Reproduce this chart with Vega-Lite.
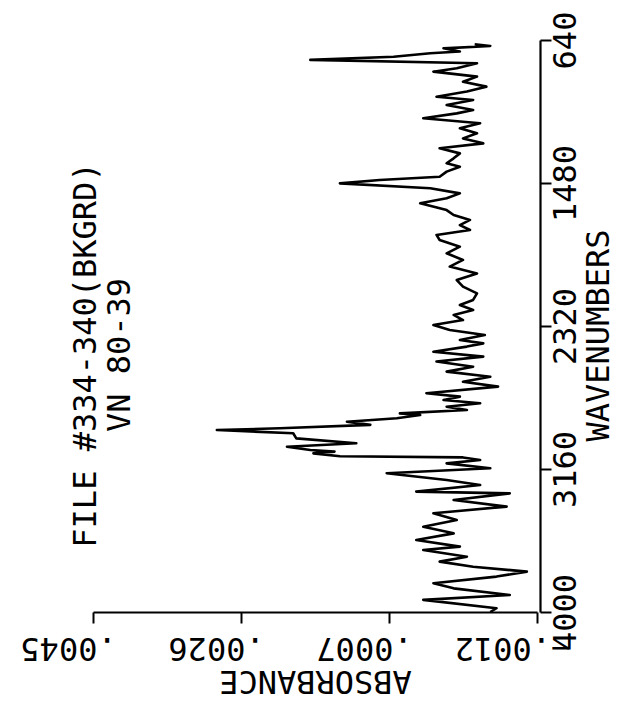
{
  "$schema": "https://vega.github.io/schema/vega-lite/v6.json",
  "width": 444,
  "height": 572,
  "autosize": "none",
  "padding": {"left": 93, "top": 40, "right": 86, "bottom": 100},
  "background": "white",
  "title": {
    "text": ["FILE #334-340(BKGRD)", "VN 80-39"],
    "orient": "left",
    "anchor": "middle",
    "offset": -117,
    "dx": -29,
    "lineHeight": 34,
    "font": "DejaVu Sans Mono",
    "fontSize": 32,
    "fontWeight": "normal",
    "color": "black"
  },
  "data": {
    "values": [
      {"wavenumber": 4000, "absorbance": -0.00060},
      {"wavenumber": 3978, "absorbance": -0.00068},
      {"wavenumber": 3929, "absorbance": 0.00026},
      {"wavenumber": 3900, "absorbance": -0.00085},
      {"wavenumber": 3861, "absorbance": -0.00013},
      {"wavenumber": 3831, "absorbance": 0.00013},
      {"wavenumber": 3792, "absorbance": -0.00068},
      {"wavenumber": 3763, "absorbance": -0.00107},
      {"wavenumber": 3734, "absorbance": -0.00038},
      {"wavenumber": 3704, "absorbance": 0.00005},
      {"wavenumber": 3675, "absorbance": -0.00030},
      {"wavenumber": 3636, "absorbance": 0.00026},
      {"wavenumber": 3616, "absorbance": -0.00021},
      {"wavenumber": 3577, "absorbance": 0.00035},
      {"wavenumber": 3538, "absorbance": -0.00013},
      {"wavenumber": 3499, "absorbance": 0.00026},
      {"wavenumber": 3460, "absorbance": -0.00017},
      {"wavenumber": 3420, "absorbance": 0.00013},
      {"wavenumber": 3381, "absorbance": -0.00081},
      {"wavenumber": 3342, "absorbance": -0.00013},
      {"wavenumber": 3303, "absorbance": -0.00085},
      {"wavenumber": 3293, "absorbance": 0.00035},
      {"wavenumber": 3254, "absorbance": -0.00047},
      {"wavenumber": 3225, "absorbance": -0.00004},
      {"wavenumber": 3185, "absorbance": 0.00073},
      {"wavenumber": 3156, "absorbance": -0.00060},
      {"wavenumber": 3127, "absorbance": -0.00004},
      {"wavenumber": 3107, "absorbance": -0.00047},
      {"wavenumber": 3092, "absorbance": -0.00025},
      {"wavenumber": 3085, "absorbance": 0.00133},
      {"wavenumber": 3068, "absorbance": 0.00167},
      {"wavenumber": 3058, "absorbance": 0.00140},
      {"wavenumber": 3048, "absorbance": 0.00171},
      {"wavenumber": 3029, "absorbance": 0.00201},
      {"wavenumber": 3009, "absorbance": 0.00112},
      {"wavenumber": 2980, "absorbance": 0.00189},
      {"wavenumber": 2950, "absorbance": 0.00193},
      {"wavenumber": 2931, "absorbance": 0.00291},
      {"wavenumber": 2921, "absorbance": 0.00210},
      {"wavenumber": 2901, "absorbance": 0.00094},
      {"wavenumber": 2882, "absorbance": 0.00124},
      {"wavenumber": 2862, "absorbance": 0.00060},
      {"wavenumber": 2843, "absorbance": 0.00030},
      {"wavenumber": 2833, "absorbance": 0.00056},
      {"wavenumber": 2813, "absorbance": -0.00030},
      {"wavenumber": 2794, "absorbance": -0.00004},
      {"wavenumber": 2774, "absorbance": -0.00047},
      {"wavenumber": 2755, "absorbance": 0.00000},
      {"wavenumber": 2735, "absorbance": -0.00021},
      {"wavenumber": 2715, "absorbance": 0.00022},
      {"wavenumber": 2676, "absorbance": -0.00070},
      {"wavenumber": 2647, "absorbance": -0.00025},
      {"wavenumber": 2618, "absorbance": -0.00060},
      {"wavenumber": 2588, "absorbance": -0.00004},
      {"wavenumber": 2559, "absorbance": -0.00038},
      {"wavenumber": 2529, "absorbance": 0.00009},
      {"wavenumber": 2500, "absorbance": -0.00051},
      {"wavenumber": 2471, "absorbance": 0.00013},
      {"wavenumber": 2441, "absorbance": -0.00030},
      {"wavenumber": 2422, "absorbance": -0.00051},
      {"wavenumber": 2402, "absorbance": -0.00021},
      {"wavenumber": 2373, "absorbance": -0.00053},
      {"wavenumber": 2343, "absorbance": -0.00008},
      {"wavenumber": 2314, "absorbance": 0.00013},
      {"wavenumber": 2285, "absorbance": -0.00025},
      {"wavenumber": 2255, "absorbance": -0.00013},
      {"wavenumber": 2226, "absorbance": -0.00038},
      {"wavenumber": 2197, "absorbance": -0.00021},
      {"wavenumber": 2167, "absorbance": -0.00038},
      {"wavenumber": 2128, "absorbance": -0.00043},
      {"wavenumber": 2089, "absorbance": -0.00025},
      {"wavenumber": 2050, "absorbance": -0.00017},
      {"wavenumber": 2011, "absorbance": -0.00043},
      {"wavenumber": 1971, "absorbance": -0.00008},
      {"wavenumber": 1932, "absorbance": -0.00025},
      {"wavenumber": 1893, "absorbance": -0.00004},
      {"wavenumber": 1854, "absorbance": -0.00021},
      {"wavenumber": 1815, "absorbance": 0.00005},
      {"wavenumber": 1785, "absorbance": 0.00009},
      {"wavenumber": 1756, "absorbance": -0.00034},
      {"wavenumber": 1727, "absorbance": -0.00021},
      {"wavenumber": 1697, "absorbance": -0.00034},
      {"wavenumber": 1668, "absorbance": -0.00013},
      {"wavenumber": 1639, "absorbance": -0.00004},
      {"wavenumber": 1599, "absorbance": 0.00030},
      {"wavenumber": 1570, "absorbance": -0.00004},
      {"wavenumber": 1541, "absorbance": -0.00021},
      {"wavenumber": 1511, "absorbance": 0.00017},
      {"wavenumber": 1482, "absorbance": 0.00133},
      {"wavenumber": 1462, "absorbance": 0.00082},
      {"wavenumber": 1443, "absorbance": 0.00005},
      {"wavenumber": 1413, "absorbance": -0.00004},
      {"wavenumber": 1384, "absorbance": -0.00021},
      {"wavenumber": 1364, "absorbance": -0.00004},
      {"wavenumber": 1335, "absorbance": -0.00013},
      {"wavenumber": 1306, "absorbance": -0.00021},
      {"wavenumber": 1276, "absorbance": 0.00005},
      {"wavenumber": 1247, "absorbance": -0.00051},
      {"wavenumber": 1218, "absorbance": -0.00025},
      {"wavenumber": 1188, "absorbance": -0.00043},
      {"wavenumber": 1159, "absorbance": -0.00021},
      {"wavenumber": 1129, "absorbance": -0.00047},
      {"wavenumber": 1100, "absorbance": 0.00026},
      {"wavenumber": 1071, "absorbance": -0.00017},
      {"wavenumber": 1051, "absorbance": -0.00038},
      {"wavenumber": 1022, "absorbance": -0.00004},
      {"wavenumber": 992, "absorbance": -0.00038},
      {"wavenumber": 973, "absorbance": 0.00009},
      {"wavenumber": 943, "absorbance": -0.00030},
      {"wavenumber": 914, "absorbance": -0.00055},
      {"wavenumber": 885, "absorbance": -0.00025},
      {"wavenumber": 855, "absorbance": -0.00043},
      {"wavenumber": 826, "absorbance": 0.00013},
      {"wavenumber": 806, "absorbance": -0.00017},
      {"wavenumber": 777, "absorbance": -0.00043},
      {"wavenumber": 757, "absorbance": 0.00171},
      {"wavenumber": 738, "absorbance": 0.00064},
      {"wavenumber": 718, "absorbance": 0.00017},
      {"wavenumber": 708, "absorbance": -0.00021},
      {"wavenumber": 689, "absorbance": 0.00000},
      {"wavenumber": 675, "absorbance": -0.00060},
      {"wavenumber": 665, "absorbance": -0.00040}
    ]
  },
  "mark": {"type": "line", "color": "black", "strokeWidth": 2.6, "strokeJoin": "round"},
  "encoding": {
    "x": {
      "field": "absorbance",
      "type": "quantitative",
      "scale": {"domain": [-0.0012, 0.0045], "reverse": true, "nice": false, "zero": false},
      "axis": {
        "orient": "bottom",
        "values": [0.0045, 0.0026, 0.0007, -0.0012],
        "labelExpr": "replace(format(datum.value, '.4f'), '0.', '.')",
        "labelAngle": 180,
        "labelAlign": "center",
        "labelBaseline": "bottom",
        "labelOffset": -25,
        "labelPadding": 7,
        "title": "ABSORBANCE",
        "titleAngle": 180,
        "titleAlign": "center",
        "titleBaseline": "bottom",
        "titleX": 222,
        "titleY": 51
      }
    },
    "y": {
      "field": "wavenumber",
      "type": "quantitative",
      "scale": {"domain": [640, 4000], "reverse": true, "nice": false, "zero": false},
      "axis": {
        "orient": "right",
        "offset": 3,
        "values": [640, 1480, 2320, 3160, 4000],
        "format": "d",
        "labelAngle": 270,
        "labelAlign": "center",
        "labelBaseline": "top",
        "labelPadding": -1,
        "title": "WAVENUMBERS",
        "titleAngle": 270,
        "titleAlign": "center",
        "titleBaseline": "top",
        "titleX": 43,
        "titleY": 295
      }
    },
    "order": {"field": "wavenumber", "type": "quantitative"}
  },
  "config": {
    "view": {"stroke": null},
    "axis": {
      "grid": false,
      "domainColor": "black",
      "domainWidth": 2.2,
      "tickColor": "black",
      "tickWidth": 2,
      "tickSize": 11,
      "labelFont": "DejaVu Sans Mono",
      "labelFontSize": 32,
      "labelColor": "black",
      "labelOverlap": false,
      "labelFlush": false,
      "labelBound": false,
      "titleFont": "DejaVu Sans Mono",
      "titleFontSize": 32,
      "titleFontWeight": "normal",
      "titleColor": "black"
    }
  }
}
